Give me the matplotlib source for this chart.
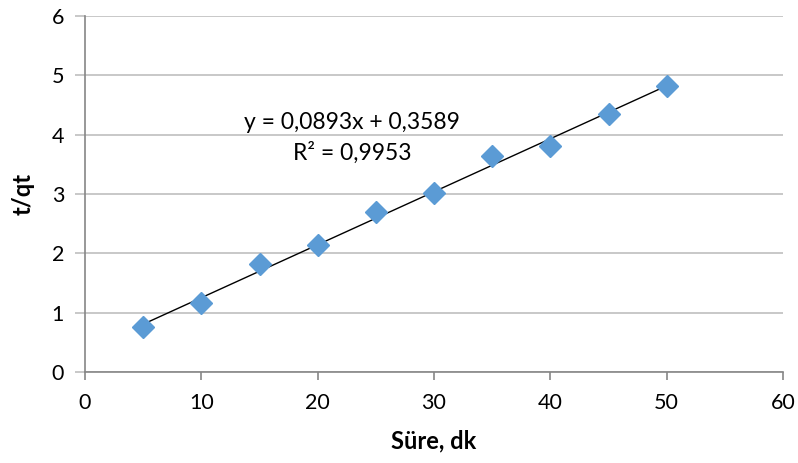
import matplotlib
matplotlib.use("Agg")
import matplotlib.pyplot as plt
import numpy as np

plt.rcParams['font.family'] = ['Lato', 'DejaVu Sans']

time_min = [5, 10, 15, 20, 25, 30, 35, 40, 45, 50]
t_qt = [0.76, 1.16, 1.82, 2.14, 2.70, 3.02, 3.64, 3.81, 4.35, 4.82]
slope = 0.0893
intercept = 0.3589
eq_text = "y = 0,0893x + 0,3589"
r2_text = "R² = 0,9953"
x_ticks = [0, 10, 20, 30, 40, 50, 60]
y_ticks = [0, 1, 2, 3, 4, 5, 6]

fig = plt.figure(figsize=(7.98, 4.63), dpi=100)
ax = fig.add_axes([85/798, 1-372/463, (783-85)/798, (372-16)/463])

ax.set_xlim(0, 60)
ax.set_ylim(0, 6)
ax.set_xticks(x_ticks)
ax.set_yticks(y_ticks)
ax.grid(axis='y', color='#BFBFBF', linewidth=1.2)
ax.set_axisbelow(True)
for s in ['top', 'right']:
    ax.spines[s].set_visible(False)
for s in ['left', 'bottom']:
    ax.spines[s].set_color('#868686')
    ax.spines[s].set_linewidth(1.2)
ax.tick_params(axis='x', direction='out', length=6, color='#868686', width=1.2, labelsize=15.5, pad=9)
ax.tick_params(axis='y', direction='out', length=7, color='#BFBFBF', width=1.2, labelsize=15.5, pad=8)

xs = np.array([time_min[0], time_min[-1]])
ax.plot(xs, slope*xs + intercept, color='black', linewidth=1.0, zorder=2)
ax.plot(time_min, t_qt, linestyle='none', marker='D', markersize=11, color='#5B9BD5', zorder=3, clip_on=False)

ax.text(22.96, 4.21, eq_text, ha='center', va='center', fontsize=16.5)
ax.text(22.96, 3.69, r2_text, ha='center', va='center', fontsize=16.5)

ax.set_xlabel("Süre, dk", fontsize=17, fontweight='bold', labelpad=12)
ax.set_ylabel("t/qt", fontsize=17, fontweight='bold', labelpad=12)

fig.savefig("out.png", dpi=100)
